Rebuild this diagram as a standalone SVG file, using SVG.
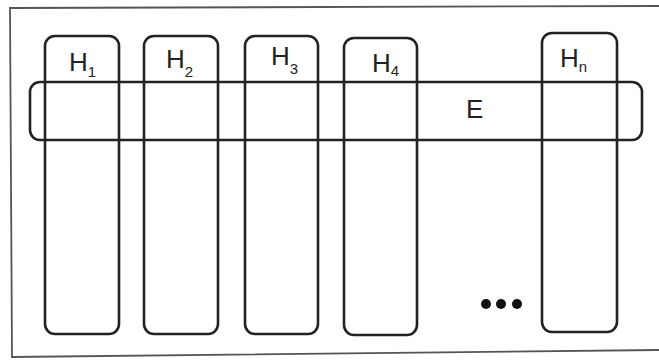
<svg xmlns="http://www.w3.org/2000/svg" width="659" height="360" viewBox="0 0 659 360">
<style>
.box{fill:none;stroke:#222;stroke-width:2.6}
.frame{fill:none;stroke:#555;stroke-width:1.8}
.lbl{font-family:"Liberation Sans",Arial,sans-serif;font-size:26px;fill:#222}
.sub{font-size:15px}
</style>
<rect width="659" height="360" fill="#fff"/>
<path class="frame" d="M659,6 L10,8 L12,357 L659,350"/>
<g id="E"><rect class="box" x="30" y="82" width="612" height="58" rx="10"/><text class="lbl" x="466" y="118">E</text></g>
<g id="H1"><rect class="box" x="45" y="36" width="74" height="298" rx="10"/><text class="lbl" x="69" y="71">H<tspan class="sub" dy="6">1</tspan></text></g>
<g id="H2"><rect class="box" x="144" y="36" width="74" height="298" rx="10"/><text class="lbl" x="166" y="68">H<tspan class="sub" dy="9">2</tspan></text></g>
<g id="H3"><rect class="box" x="245" y="36" width="73" height="298" rx="10"/><text class="lbl" x="271" y="65">H<tspan class="sub" dy="9">3</tspan></text></g>
<g id="H4"><rect class="box" x="344" y="38" width="73" height="297" rx="10"/><text class="lbl" x="372" y="72">H<tspan class="sub" dy="4">4</tspan></text></g>
<g id="Hn"><rect class="box" x="542" y="33" width="75" height="299" rx="10"/><text class="lbl" x="560" y="67">H<tspan class="sub" dy="5">n</tspan></text></g>
<g id="dots" fill="#111"><circle cx="486" cy="304" r="5"/><circle cx="501" cy="304" r="5"/><circle cx="517" cy="304" r="5"/></g>
</svg>
